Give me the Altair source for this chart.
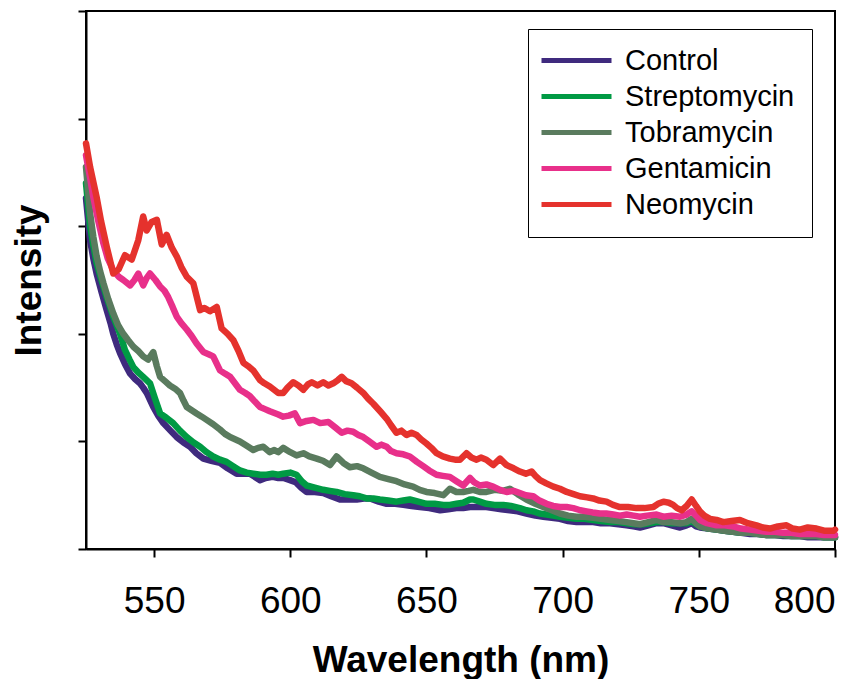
import altair as alt
import pandas as pd

series_names = ["Control", "Streptomycin", "Tobramycin", "Gentamicin", "Neomycin"]
series_colors = ["#3f2a7e", "#009a44", "#5a7b5e", "#e8308a", "#e5322d"]

neo_x = [525, 526.5, 528.9, 530.5, 532.6, 535, 537, 539.3, 541.8, 544.2, 546, 547.3, 549.1, 551, 552.8, 554.6, 556.5, 558.3, 560, 562, 564.4, 566.9, 568.5, 570.5, 573, 574.8, 577, 579.1, 581, 582.8, 584.5, 586.4, 588.9, 590.5, 592.5, 595.6, 597.4, 599, 601.1, 603, 604.8, 606.5, 607.9, 610, 612.1, 614, 615.8, 617.5, 618.9, 620.5, 622.5, 624.5, 626.8, 628.5, 630.5, 633, 635.4, 637, 639, 640.8, 642.7, 644.5, 646.4, 648, 650, 651.8, 653.7, 656, 658.6, 660.5, 662.3, 664.7, 666.5, 668.4, 670, 672, 674.5, 677, 679.4, 682, 684.3, 686.5, 688.6, 690, 691.7, 694, 696.6, 699, 701.5, 704, 706.4, 709, 711.2, 713.5, 716.1, 718.5, 721, 724, 727.1, 730, 733.3, 735, 737, 739, 740.6, 742, 743.7, 745.5, 747.4, 749, 750.4, 752, 754.1, 756.5, 759, 762, 765.1, 768, 771.2, 773.5, 776.1, 779, 782.2, 784.5, 787.1, 790, 793.2, 796, 799.4, 800]
neo_y = [3.77, 3.55, 3.27, 3.05, 2.81, 2.56, 2.60, 2.73, 2.69, 2.87, 3.09, 2.96, 3.04, 3.06, 2.83, 2.92, 2.80, 2.72, 2.62, 2.53, 2.47, 2.22, 2.24, 2.21, 2.25, 2.05, 2.00, 1.94, 1.84, 1.73, 1.70, 1.66, 1.57, 1.54, 1.51, 1.45, 1.45, 1.50, 1.55, 1.52, 1.48, 1.53, 1.55, 1.52, 1.55, 1.52, 1.54, 1.57, 1.60, 1.56, 1.54, 1.50, 1.45, 1.40, 1.35, 1.28, 1.21, 1.15, 1.08, 1.10, 1.06, 1.08, 1.06, 1.02, 0.98, 0.94, 0.89, 0.86, 0.84, 0.83, 0.83, 0.89, 0.85, 0.83, 0.85, 0.83, 0.78, 0.84, 0.78, 0.75, 0.72, 0.70, 0.72, 0.68, 0.64, 0.61, 0.58, 0.56, 0.53, 0.51, 0.49, 0.48, 0.47, 0.45, 0.44, 0.41, 0.39, 0.39, 0.38, 0.38, 0.39, 0.42, 0.44, 0.43, 0.41, 0.38, 0.36, 0.40, 0.46, 0.40, 0.35, 0.31, 0.28, 0.27, 0.25, 0.26, 0.27, 0.24, 0.22, 0.20, 0.19, 0.21, 0.22, 0.19, 0.18, 0.20, 0.19, 0.17, 0.17, 0.18]

gen_x = [525, 526.5, 527.7, 529.5, 531.4, 533, 535, 537, 538.7, 541.2, 542.8, 544.2, 546, 547.3, 548.5, 550.5, 552.2, 553.8, 555.2, 556.8, 558.3, 560, 562, 563.8, 565.6, 568.1, 570, 571.7, 574.2, 576, 577.9, 579.7, 581.5, 583.5, 585.2, 587, 588.9, 590.7, 592.5, 595.6, 597.4, 599.5, 601.7, 603.6, 606, 608.5, 611, 614, 616.5, 618.9, 621, 623.1, 625, 626.8, 629, 631.7, 633.5, 635.4, 637, 639, 641.5, 643.9, 646.5, 648.8, 651, 653.7, 656, 658.6, 661, 663.5, 666, 667.5, 669.6, 672, 674.5, 677, 679.4, 682, 684.3, 686.5, 689.2, 691.5, 694.1, 696.5, 699, 701.5, 703.9, 706.5, 708.8, 711, 713.7, 716, 718.6, 721, 723.5, 726, 728.4, 731, 734.5, 737, 740, 743.1, 745.5, 747.4, 749, 750.4, 753, 756.5, 759.5, 762.6, 765.5, 768.8, 772, 774.9, 778, 781, 784, 787.1, 790, 793.2, 796, 799.4, 800]
gen_y = [3.66, 3.45, 3.27, 3.05, 2.84, 2.70, 2.59, 2.53, 2.50, 2.45, 2.50, 2.56, 2.45, 2.52, 2.56, 2.50, 2.44, 2.40, 2.34, 2.25, 2.16, 2.10, 2.04, 1.98, 1.91, 1.83, 1.81, 1.79, 1.66, 1.63, 1.60, 1.54, 1.48, 1.45, 1.42, 1.37, 1.32, 1.30, 1.28, 1.25, 1.23, 1.24, 1.26, 1.17, 1.19, 1.20, 1.17, 1.18, 1.13, 1.08, 1.10, 1.09, 1.06, 1.04, 1.00, 0.95, 0.97, 0.95, 0.91, 0.89, 0.88, 0.86, 0.81, 0.77, 0.73, 0.69, 0.68, 0.67, 0.63, 0.59, 0.66, 0.62, 0.59, 0.60, 0.58, 0.55, 0.53, 0.54, 0.52, 0.50, 0.49, 0.45, 0.42, 0.40, 0.39, 0.39, 0.38, 0.36, 0.35, 0.34, 0.33, 0.33, 0.32, 0.31, 0.32, 0.31, 0.30, 0.31, 0.32, 0.30, 0.31, 0.30, 0.32, 0.35, 0.31, 0.27, 0.24, 0.22, 0.22, 0.21, 0.19, 0.18, 0.17, 0.16, 0.16, 0.15, 0.15, 0.14, 0.14, 0.14, 0.13, 0.13, 0.13]

tob_x = [525, 526.5, 527.7, 528.9, 530.2, 531.4, 533.2, 535, 536.8, 538.7, 540.5, 542.4, 544.2, 546, 547.8, 549.7, 551, 552.2, 554, 555.8, 557.7, 559.5, 560.8, 562, 563.8, 565.6, 567.5, 569.3, 571.7, 574.2, 576, 577.9, 579.7, 581.5, 584, 586.4, 588.2, 590.1, 592.5, 594, 595.6, 597.4, 600, 602.3, 604.8, 607, 609.7, 612, 614.6, 617, 619.5, 621.9, 624.5, 626.8, 629.8, 632.9, 636, 639, 642, 645.1, 647.5, 650, 653, 656.2, 658.6, 661, 663.5, 665.5, 667.2, 669.6, 672, 675, 678, 680.6, 683.5, 686.7, 690, 692.9, 696, 699, 702, 705.1, 708, 711.2, 714, 717.4, 720.5, 723.5, 726, 728.4, 731.5, 734.5, 737, 740, 743.1, 745.5, 747.4, 749, 750.4, 753.5, 756.5, 759.5, 762.6, 765.5, 768.8, 772, 774.9, 778, 781, 784, 787.1, 790, 793.2, 796, 799.4, 800]
tob_y = [3.55, 3.12, 2.90, 2.72, 2.58, 2.47, 2.32, 2.19, 2.08, 2.00, 1.94, 1.88, 1.84, 1.79, 1.76, 1.83, 1.70, 1.60, 1.56, 1.52, 1.49, 1.45, 1.38, 1.32, 1.29, 1.26, 1.23, 1.20, 1.16, 1.11, 1.07, 1.04, 1.02, 1.00, 0.96, 0.92, 0.94, 0.95, 0.90, 0.92, 0.90, 0.94, 0.90, 0.87, 0.89, 0.86, 0.84, 0.82, 0.78, 0.86, 0.80, 0.76, 0.77, 0.75, 0.71, 0.67, 0.65, 0.63, 0.60, 0.58, 0.55, 0.53, 0.52, 0.50, 0.56, 0.53, 0.53, 0.54, 0.55, 0.53, 0.53, 0.55, 0.54, 0.56, 0.51, 0.46, 0.42, 0.39, 0.36, 0.33, 0.31, 0.30, 0.30, 0.29, 0.28, 0.27, 0.26, 0.25, 0.24, 0.23, 0.25, 0.27, 0.25, 0.25, 0.24, 0.25, 0.28, 0.24, 0.21, 0.19, 0.18, 0.17, 0.16, 0.15, 0.15, 0.14, 0.13, 0.13, 0.13, 0.12, 0.12, 0.12, 0.12, 0.11, 0.11, 0.11]

str_x = [525, 526.5, 527.7, 528.9, 530.8, 532.6, 535, 537.5, 539.3, 541, 542.4, 544.2, 546, 548.5, 550.3, 552.2, 554.5, 557, 559.5, 562, 564.5, 566.9, 569.3, 571.7, 574.2, 576.6, 579, 581.5, 584, 586.4, 589, 591.3, 593.5, 595.6, 597.4, 600, 602.3, 604.2, 606, 609, 612.1, 614.5, 617, 620, 623.1, 625.5, 628, 630.5, 632.9, 636, 639, 641.5, 643.9, 647, 650, 653, 656.2, 658.6, 661, 663.5, 666, 667.2, 669.6, 672, 675, 678.2, 681, 684.3, 686.7, 689.2, 691.5, 694.1, 696.5, 699, 702, 705.1, 708, 711.2, 714, 717.4, 720.5, 723.5, 726.5, 729.6, 732, 734.5, 737, 740, 743.1, 745.5, 747.4, 749, 750.4, 753.5, 756.5, 759.5, 762.6, 765.5, 768.8, 772, 774.9, 778, 781, 784, 787.1, 790, 793.2, 796, 799.4, 800]
str_y = [3.40, 3.00, 2.82, 2.66, 2.49, 2.34, 2.16, 2.00, 1.85, 1.76, 1.69, 1.64, 1.60, 1.54, 1.40, 1.26, 1.22, 1.17, 1.10, 1.04, 0.99, 0.95, 0.90, 0.86, 0.83, 0.81, 0.77, 0.73, 0.71, 0.70, 0.69, 0.69, 0.70, 0.69, 0.70, 0.71, 0.69, 0.63, 0.59, 0.57, 0.55, 0.54, 0.53, 0.51, 0.50, 0.49, 0.47, 0.47, 0.46, 0.45, 0.44, 0.45, 0.46, 0.44, 0.42, 0.42, 0.41, 0.41, 0.42, 0.43, 0.46, 0.46, 0.44, 0.42, 0.41, 0.41, 0.40, 0.38, 0.36, 0.35, 0.33, 0.32, 0.31, 0.30, 0.29, 0.28, 0.28, 0.27, 0.26, 0.25, 0.25, 0.24, 0.23, 0.23, 0.24, 0.25, 0.25, 0.24, 0.24, 0.24, 0.26, 0.23, 0.21, 0.19, 0.18, 0.17, 0.16, 0.15, 0.15, 0.14, 0.13, 0.13, 0.13, 0.12, 0.12, 0.12, 0.12, 0.11, 0.11, 0.11]

con_x = [525, 526.5, 527.7, 528.9, 530.8, 532.6, 534, 535, 536.3, 537.5, 539.3, 541.2, 543, 544.8, 546, 547.3, 549.7, 551.5, 553.4, 556, 558.3, 560.8, 563.2, 565.5, 568.1, 571, 574.2, 577, 580.3, 582.8, 585.2, 587, 588.9, 591, 593.5, 595.6, 597.5, 599.9, 602, 604, 606, 609, 612.1, 615, 618.2, 621, 624.4, 627, 629.3, 632.5, 635.4, 638.5, 641.5, 644.5, 647.6, 651, 655, 658, 661, 663.5, 666, 669.6, 672, 674.5, 677.5, 680.6, 683.5, 686.7, 690, 692.9, 696, 699, 702, 705.1, 708, 711.2, 714, 717.4, 720.5, 723.5, 726, 728.4, 731.5, 734.5, 737, 740, 743.1, 745.5, 747.4, 749, 750.4, 753.5, 756.5, 759.5, 762.6, 765.5, 768.8, 772, 774.9, 778, 781, 784, 787.1, 790, 793.2, 796, 799.4, 800]
con_y = [3.26, 2.87, 2.70, 2.56, 2.38, 2.22, 2.10, 2.00, 1.90, 1.82, 1.72, 1.63, 1.58, 1.54, 1.50, 1.45, 1.32, 1.24, 1.17, 1.10, 1.04, 0.99, 0.95, 0.89, 0.84, 0.82, 0.80, 0.75, 0.70, 0.70, 0.70, 0.67, 0.64, 0.66, 0.67, 0.66, 0.66, 0.64, 0.62, 0.57, 0.53, 0.53, 0.52, 0.49, 0.46, 0.46, 0.46, 0.47, 0.47, 0.44, 0.42, 0.42, 0.41, 0.40, 0.39, 0.38, 0.36, 0.37, 0.38, 0.38, 0.39, 0.39, 0.39, 0.38, 0.37, 0.36, 0.35, 0.33, 0.31, 0.30, 0.29, 0.28, 0.26, 0.25, 0.25, 0.25, 0.24, 0.24, 0.23, 0.22, 0.21, 0.20, 0.22, 0.24, 0.24, 0.22, 0.20, 0.22, 0.24, 0.21, 0.20, 0.19, 0.18, 0.17, 0.16, 0.15, 0.14, 0.14, 0.13, 0.13, 0.12, 0.12, 0.12, 0.11, 0.11, 0.11, 0.11, 0.11]

x_ticks = [550, 600, 650, 700, 750, 800]
y_ticks = [0, 1, 2, 3, 4, 5]

series_xy = {
    "Control": (con_x, con_y),
    "Streptomycin": (str_x, str_y),
    "Tobramycin": (tob_x, tob_y),
    "Gentamicin": (gen_x, gen_y),
    "Neomycin": (neo_x, neo_y),
}

rows = []
for name in series_names:
    xs, ys = series_xy[name]
    for i, (x, y) in enumerate(zip(xs, ys)):
        rows.append({"Wavelength": x, "Intensity": y, "Sample": name, "i": i})
df = pd.DataFrame(rows)

FONT = "Liberation Sans"

color = alt.Color(
    "Sample:N",
    scale=alt.Scale(domain=series_names, range=series_colors),
    legend=alt.Legend(
        title=None,
        orient="none",
        legendX=442,
        legendY=18,
        symbolType="M-3.6,0H10.4",
        symbolSize=100,
        symbolStrokeWidth=5,
        labelFont=FONT,
        labelFontSize=29,
        labelColor="black",
        labelOffset=51,
        labelLimit=400,
        strokeColor="black",
        fillColor="white",
        padding=17,
        rowPadding=6,
    ),
)

x_enc = alt.X(
    "Wavelength:Q",
    scale=alt.Scale(domain=[525, 800], nice=False, zero=False),
    axis=alt.Axis(
        values=x_ticks,
        title="Wavelength (nm)",
        grid=False,
        labelBaseline="alphabetic",
        labelPadding=55,
        titleBaseline="alphabetic",
        titleY=122,
    ),
)
y_enc = alt.Y(
    "Intensity:Q",
    scale=alt.Scale(domain=[0, 5], nice=False, zero=False),
    axis=alt.Axis(
        values=y_ticks,
        labels=False,
        title="Intensity",
        grid=False,
        titleAngle=-90,
        titleBaseline="alphabetic",
        titleAlign="center",
        titleX=-46,
        titleY=269,
    ),
)

layers = []
for name in series_names:
    layers.append(
        alt.Chart(df)
        .transform_filter(alt.datum.Sample == name)
        .mark_line(strokeWidth=6.5, strokeJoin="round", strokeCap="round")
        .encode(x=x_enc, y=y_enc, color=color, order="i:Q")
    )

chart = (
    alt.layer(*layers)
    .properties(
        width=749,
        height=538,
        autosize=alt.AutoSizeParams(type="none"),
        padding={"left": 78, "top": 3, "right": 25, "bottom": 130},
        background="white",
    )
    .configure_view(stroke="black", strokeWidth=2)
    .configure_axis(
        domainColor="black",
        domainWidth=2,
        tickColor="black",
        tickWidth=2,
        tickSize=8,
        labelFont=FONT,
        labelFontSize=37,
        labelColor="black",
        titleFont=FONT,
        titleFontSize=37,
        titleFontWeight="bold",
        titleColor="black",
    )
)

chart.save("out.html", embed_options={"renderer": "svg", "actions": False})
